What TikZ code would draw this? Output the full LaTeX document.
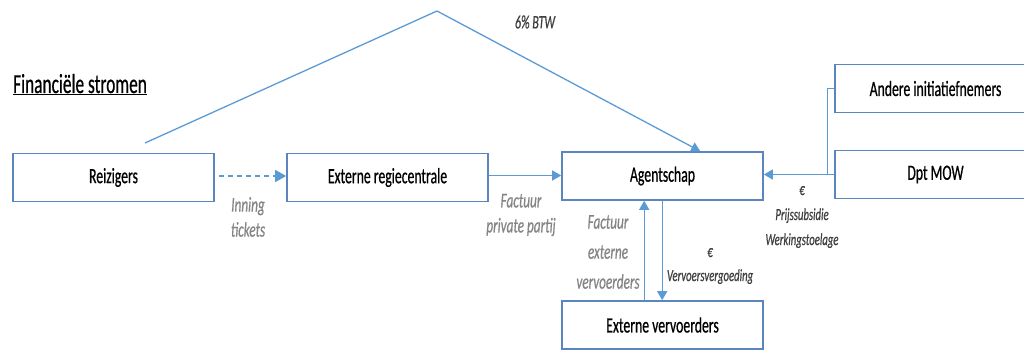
\documentclass[tikz,border=0pt]{standalone}
\usepackage{fontspec}
\setmainfont{Carlito}[FakeStretch=0.63, FakeBold=0.6]
\usetikzlibrary{arrows.meta,calc}
\definecolor{boxblue}{HTML}{5A85BE}
\definecolor{flowblue}{HTML}{5B9BD5}
\definecolor{labelgray}{HTML}{858585}
\definecolor{notegray}{HTML}{404040}

\begin{document}
\begin{tikzpicture}[x=1pt,y=-1pt,
  entity/.style={draw=boxblue, line width=1.6pt, fill=white,
    minimum width=201pt, minimum height=48pt, inner sep=0pt,
    font=\fontsize{21.8}{24}\selectfont},
  flow/.style={draw=flowblue, line width=1.3pt},
  tip/.style={-{Triangle[length=9pt,width=10pt]}},
  flowlabel/.style={text=labelgray, align=center, inner sep=0pt,
    font=\fontsize{21}{25}\selectfont\itshape},
  note/.style={text=notegray, align=center, inner sep=0pt,
    font=\fontsize{17}{25}\selectfont\itshape},
]
\useasboundingbox (0,0) rectangle (1024,350);
\clip (0,0) rectangle (1024,350);

% title
\node[anchor=base west, inner sep=0pt, font=\fontsize{27.5}{30}\selectfont]
  (title) at (13,93) {\underline{Financiële stromen}};

% actors
\node[entity] (reiz)   at (113.5,177.5) {Reizigers};
\node[entity] (regie)  at (387.5,177.5) {Externe regiecentrale};
\node[entity] (agent)  at (662.5,176)   {Agentschap};
\node[entity] (vervoer) at (662.5,325)  {Externe vervoerders};
\node[entity] (andere) at (935.5,88.5)  {Andere initiatiefnemers};
\node[entity] (mow)    at (935.5,174.5) {Dpt MOW};

% VAT flow over the top
\coordinate (btwstart) at (145,143);
\coordinate (btwtop) at (437,11);
\coordinate (btwend) at ($(agent.north west)+(139,0)$);
\draw[flow, tip] (btwstart) -- (btwtop) -- (btwend);
\node[note, font=\fontsize{19}{22}\selectfont\itshape] (btw) at (535,22) {6\% BTW};

% ticket revenue
\coordinate (tickfrom) at ($(reiz.east)+(4,-1.5)$);
\coordinate (tickto) at ($(regie.west)+(0,-1.5)$);
\draw[flow, dash pattern=on 5pt off 4pt,
  -{Triangle[length=11pt,width=12pt]}] (tickfrom) -- (tickto);
\node[flowlabel] (inning) at (248,217) {Inning\\tickets};

% invoice of the private party
\coordinate (privfrom) at ($(regie.east)+(0,-2)$);
\draw[flow, tip] (privfrom) -- (privfrom -| agent.west);
\node[flowlabel] (factpriv) at (521,215) {Factuur\\private partij};

% carriers
\coordinate (upfrom) at ($(vervoer.north west)+(83,0)$);
\coordinate (downfrom) at ($(agent.south west)+(101,0)$);
\draw[flow, tip] (upfrom) -- (upfrom |- agent.south);
\draw[flow, tip] (downfrom) -- (downfrom |- vervoer.north);
\node[flowlabel, font=\fontsize{21}{30}\selectfont\itshape]
  (factext) at (608,252) {Factuur\\externe\\vervoerders};
\node[note, font=\fontsize{17}{24}\selectfont\itshape]
  (vergoed) at (710,266) {€\\Vervoersvergoeding};

% subsidies
\coordinate (join) at ($(mow.west)+(-7,0)$);
\draw[flow, tip] (mow.west) -- (mow.west -| agent.east);
\draw[flow] (andere.west) -| (join);
\node[note] (subsidie) at (802,217) {€\\Prijssubsidie\\Werkingstoelage};

\end{tikzpicture}
\end{document}
